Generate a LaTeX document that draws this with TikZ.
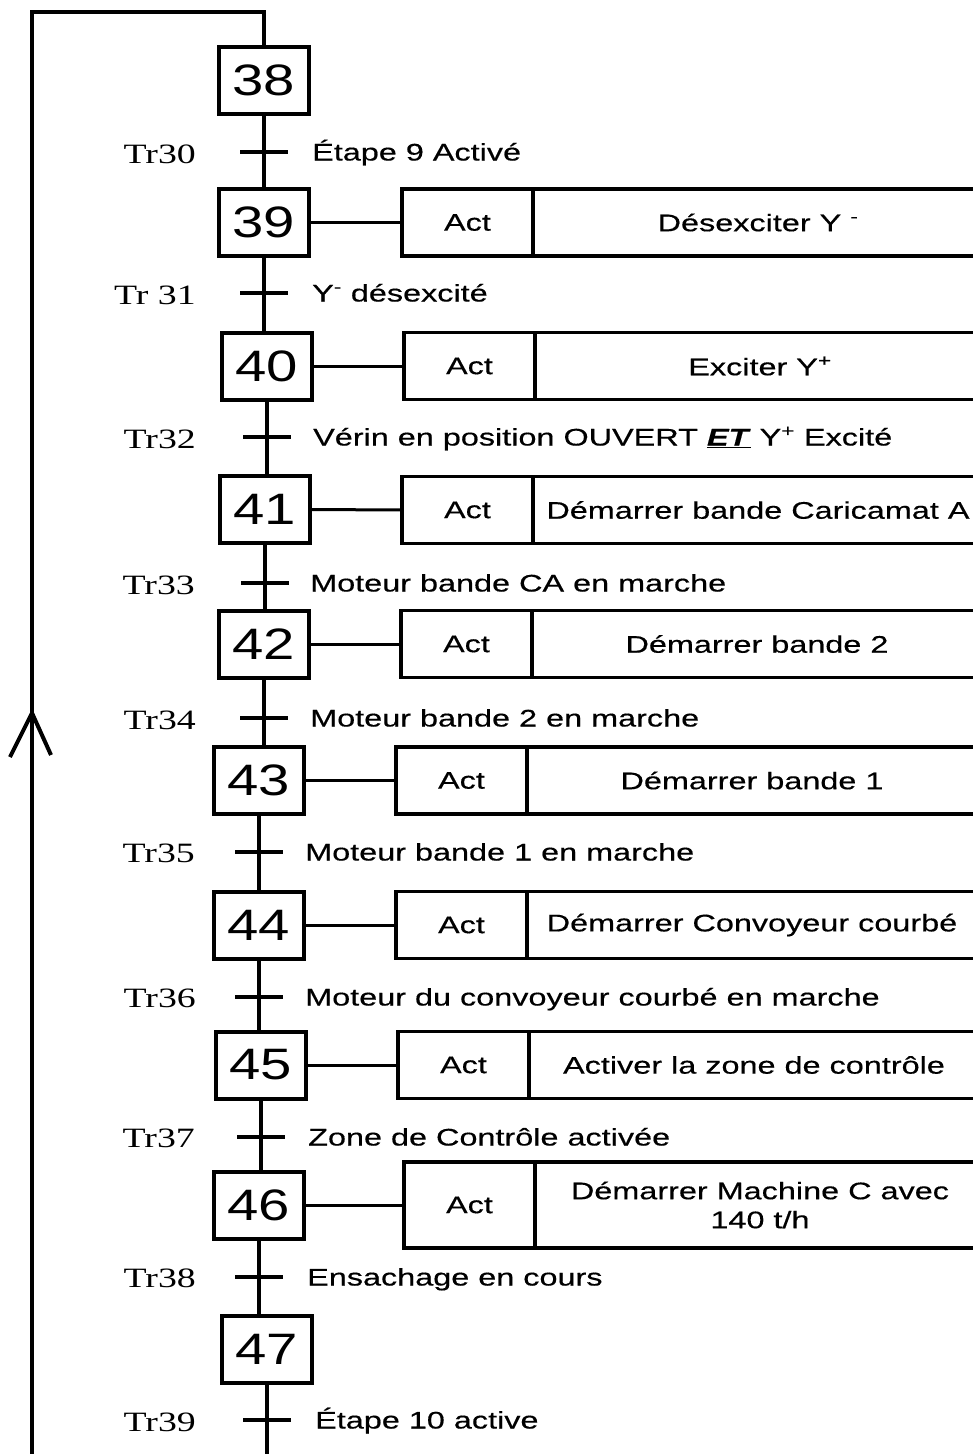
\documentclass[tikz,border=0pt]{standalone}
\usepackage{fontspec}
\setmainfont{Liberation Sans}
\newfontfamily\sansw[FakeStretch=1.35,FakeBold=0.4]{Liberation Sans}
\newfontfamily\digf[FakeStretch=1.28]{Liberation Sans}
\newfontfamily\trf[FakeStretch=1.35]{Liberation Serif}
\begin{document}
\begin{tikzpicture}[x=1pt,y=-1pt,
  stepbox/.style={draw, line width=4pt, minimum width=90pt, minimum height=67pt, inner sep=0pt, font=\digf\fontsize{44}{44}\selectfont},
  actbox/.style={draw, line width=3.5pt, outer sep=0pt, minimum width=131pt, minimum height=67pt, anchor=west, inner sep=0pt, font=\sansw\fontsize{24}{28}\selectfont},
  txtbox/.style={draw, line width=3.5pt, outer sep=0pt, minimum width=450pt, minimum height=67pt, anchor=west, inner sep=0pt, align=center, font=\sansw\fontsize{24}{29}\selectfont},
  trlab/.style={anchor=base east, inner sep=0pt, font=\trf\fontsize{28}{28}\selectfont},
  cond/.style={anchor=base west, inner sep=0pt, font=\sansw\fontsize{24}{28}\selectfont},
  flow/.style={line width=4pt},
  trbar/.style={line width=3.5pt},
  link/.style={line width=3pt}]
\useasboundingbox (0,0) rectangle (973,1454);
\clip (0,0) rectangle (973,1454);
\fill[white] (0,0) rectangle (973,1454);

% steps
\node[stepbox] (s38) at (264,80) {38};
\node[stepbox] (s39) at (264,222.5) {39};
\node[stepbox] (s40) at (267,366) {40};
\node[stepbox] (s41) at (265,509.5) {41};
\node[stepbox] (s42) at (264,644) {42};
\node[stepbox] (s43) at (259,780.5) {43};
\node[stepbox] (s44) at (259,925) {44};
\node[stepbox] (s45) at (261,1065) {45};
\node[stepbox] (s46) at (259,1205) {46};
\node[stepbox] (s47) at (267,1349) {47};

% transitions
\coordinate (t30) at (264,152);
\coordinate (t31) at (264,293);
\coordinate (t32) at (267,437);
\coordinate (t33) at (265,583);
\coordinate (t34) at (264,718);
\coordinate (t35) at (259,852);
\coordinate (t36) at (259,997);
\coordinate (t37) at (261,1137);
\coordinate (t38) at (259,1277);
\coordinate (t39) at (267,1420);

% main flow
\draw[flow] (s38.south) -- (t30) -- (t30 |- s39.north);
\draw[flow] (s39.south) -- (t31) -- (t31 |- s40.north);
\draw[flow] (s40.south) -- (t32) -- (t32 |- s41.north);
\draw[flow] (s41.south) -- (t33) -- (t33 |- s42.north);
\draw[flow] (s42.south) -- (t34) -- (t34 |- s43.north);
\draw[flow] (s43.south) -- (t35) -- (t35 |- s44.north);
\draw[flow] (s44.south) -- (t36) -- (t36 |- s45.north);
\draw[flow] (s45.south) -- (t37) -- (t37 |- s46.north);
\draw[flow] (s46.south) -- (t38) -- (t38 |- s47.north);

% loop back
\coordinate (lt) at (32,12);
\coordinate (lb) at (32,1475);
\coordinate (ar) at (32,713);
\draw[flow] (s47.south) -- (t39) -- (t39 |- lb) -- (lb) -- (lt) -- (lt -| s38) -- (s38.north);
\draw[flow] ([shift={(-22,44)}]ar) -- (ar) -- ([shift={(19,42)}]ar);

% transition bars
\foreach \t in {t30,t31,t32,t33,t34,t35,t36,t37,t38,t39}
  \draw[trbar] ([shift={(-24,0)}]\t) -- ([shift={(24,0)}]\t);

% transition labels
\node[trlab] (l30) at (196,163) {Tr30};
\node[trlab] (l31) at (196,304) {Tr 31};
\node[trlab] (l32) at (196,448) {Tr32};
\node[trlab] (l33) at (195,594) {Tr33};
\node[trlab] (l34) at (196,729) {Tr34};
\node[trlab] (l35) at (195,862) {Tr35};
\node[trlab] (l36) at (196,1007) {Tr36};
\node[trlab] (l37) at (195,1147) {Tr37};
\node[trlab] (l38) at (196,1287) {Tr38};
\node[trlab] (l39) at (196,1431) {Tr39};

% receptivities
\node[cond] (c30) at (312,160.5) {Étape 9 Activé};
\node[cond] (c31) at (312,301.5) {Y\textsuperscript{-} désexcité};
\node[cond] (c32) at (313,445.5) {Vérin en position OUVERT \underline{\textbf{\textit{ET}}} Y\textsuperscript{+} Excité};
\node[cond] (c33) at (310,591.5) {Moteur bande CA en marche};
\node[cond] (c34) at (310,726.5) {Moteur bande 2 en marche};
\node[cond] (c35) at (305,860.5) {Moteur bande 1 en marche};
\node[cond] (c36) at (305,1005.5) {Moteur du convoyeur courbé en marche};
\node[cond] (c37) at (308,1145.5) {Zone de Contrôle activée};
\node[cond] (c38) at (307,1285.5) {Ensachage en cours};
\node[cond] (c39) at (315,1428.5) {Étape 10 active};

% actions
\node[actbox] (a39) at (402,222.5) {Act};
\node[txtbox] (d39) at (a39.east) {Désexciter Y \textsuperscript{-}};
\node[actbox] (a40) at (404,366) {Act};
\node[txtbox] (d40) at (a40.east) {Exciter Y\textsuperscript{+}};
\node[actbox] (a41) at (402,510) {Act};
\node[txtbox] (d41) at (a41.east) {Démarrer bande Caricamat A};
\node[actbox] (a42) at (401,644) {Act};
\node[txtbox] (d42) at (a42.east) {Démarrer bande 2};
\node[actbox] (a43) at (396,780.5) {Act};
\node[txtbox] (d43) at (a43.east) {Démarrer bande 1};
\node[actbox] (a44) at (396,925) {Act};
\node[txtbox] (d44) at (a44.east) {Démarrer Convoyeur courbé};
\node[actbox] (a45) at (398,1065) {Act};
\node[txtbox] (d45) at (a45.east) {Activer la zone de contrôle};
\node[actbox, minimum height=86pt] (a46) at (404,1205) {Act};
\node[txtbox, minimum height=86pt] (d46) at (a46.east) {Démarrer Machine C avec\\140 t/h};

% links step -> action
\draw[link] (s39.east) -- (a39.west);
\draw[link] (s40.east) -- (a40.west);
\draw[link] (s41.east) -- (a41.west);
\draw[link] (s42.east) -- (a42.west);
\draw[link] (s43.east) -- (a43.west);
\draw[link] (s44.east) -- (a44.west);
\draw[link] (s45.east) -- (a45.west);
\draw[link] (s46.east) -- (a46.west);
\end{tikzpicture}
\end{document}
